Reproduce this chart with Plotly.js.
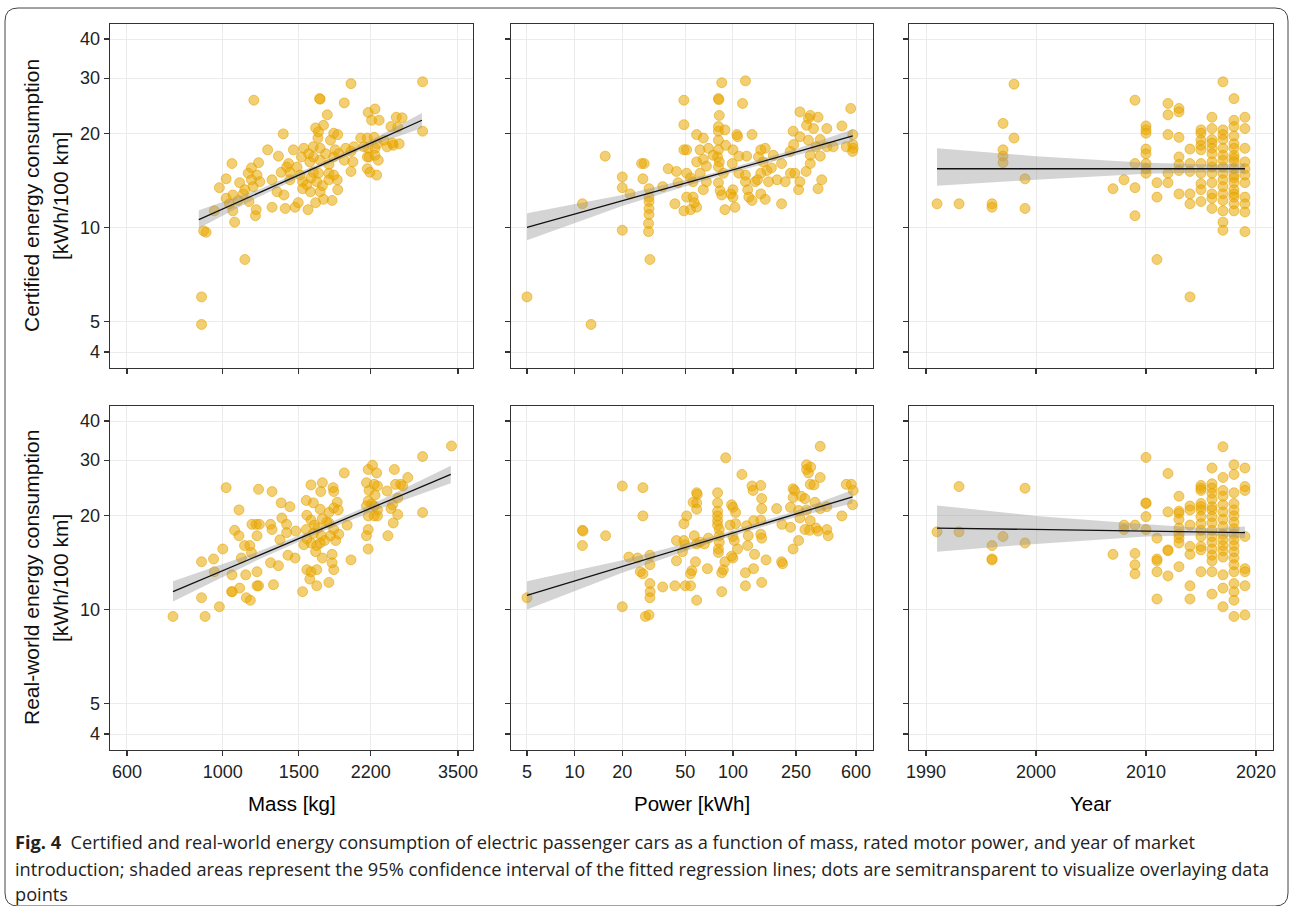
<!DOCTYPE html>
<html>
<head>
<meta charset="utf-8">
<script src="https://cdn.plot.ly/plotly-3.0.1.min.js"></script>
<style>
  html, body { margin: 0; padding: 0; background: #fff; }
  #chart { width: 1290px; height: 906px; }
</style>
</head>
<body>
<div id="chart"></div>
<script>
// ---------------- data ----------------
// Panel A: certified consumption vs mass
const massA = [893,893,903,915,1125,1180,1980,2900,2900,1675,1680,1910,1745,1710,1640,1380,2170,2250,2210,2300,2520,2600,2450,2085,2160,2240,2170,2250,2280,2180,2290,2160,2190,2270,2400,2480,2560,2540,1270,1345,1457,1050,1018,982,1094,1165,1210,1200,956,1055,1065,1190,1195,1055,1115,1150,1300,1365,1420,1430,1300,1395,1470,1575,1385,1335,1495,1640,1710,1790,1540,1620,1680,1806,1845,1820,1910,2000,1980,1530,1565,1600,1650,1700,1530,1595,1680,1760,1840,1845,1760,1680,1620,1590,1925,1775,1660,1665,1580,1520,1485,1430,1405,1218,1175,1125,1085,1018,1035,1145,1165,2160,2250,2120,2360,2470,2010,1730,1806,1760,1806,1620,1665,1510,1980,1855];
const certA = [4.9,6.0,9.75,9.65,7.9,25.5,28.8,29.2,20.3,25.8,25.7,25.0,22.9,21.2,20.8,19.9,23.3,23.9,22.0,22.0,22.5,22.4,21.0,19.3,19.3,19.4,17.9,17.9,18.5,16.8,16.4,15.4,15.0,14.7,18.1,18.3,18.5,20.9,17.7,16.9,17.7,16.0,14.3,13.4,13.9,15.5,16.1,14.7,11.3,11.3,10.4,10.9,11.4,12.7,12.8,12.1,14.2,15.0,16.0,15.0,11.6,11.5,11.6,11.4,12.7,13.0,12.0,12.0,12.3,12.2,17.9,18.1,17.9,20.0,19.8,17.7,16.4,16.2,15.1,14.0,13.7,14.4,14.0,13.6,13.3,13.0,13.0,14.2,14.2,13.2,15.9,16.4,16.8,16.2,17.9,19.0,19.3,20.2,17.2,16.8,15.6,14.2,15.6,14.0,13.5,13.2,12.2,12.4,11.9,14.9,14.2,16.8,17.0,18.1,19.0,18.6,18.1,17.2,16.8,14.9,14.7,15.0,14.9,14.7,17.5,17.2];
const fitMassA = [880, 1200, 1650, 2200, 2890];
const fitA = [10.6, 12.8, 15.6, 18.6, 22.0];
const loA  = [9.95, 12.45, 15.35, 18.2, 20.8];
const hiA  = [11.35, 13.15, 15.85, 19.0, 23.2];

// Panel B: certified consumption vs power
const powerB = [5,12.7,11.2,15.6,20,20,20,22.4,26.5,27.5,27,29.5,29.5,29.5,29.5,29.5,29.3,29.3,29.9,36,39,44,43,45,49,49,49,51,51,54,51,49,54,56,59,57,59,65,70,62,59,65,68,62,68,65,56,85,81,81.5,82,81,81,89,81,81,80,82,81,87,81,83,85,89,97,120,115,106,107,132,100,109,122,99,109,100,100,103,120,120,124,126,132,138,150,160,150,160,145,155,164,150,143,168,203,190,203,214,231,246,240,242,260,265,290,308,265,300,308,345,292,323,392,265,300,356,392,335,308,356,364,345,488,555,572,572,575,570,430,520,180,175,230,90,75];
const certB = [6.0,4.9,11.9,16.9,9.8,14.5,13.4,12.8,16.0,16.0,14.3,13.3,12.5,12.1,11.5,11.0,10.3,9.7,7.9,13.5,15.4,15.1,11.9,13.9,25.5,21.3,17.7,17.7,14.9,14.4,12.5,11.3,11.4,12.5,11.6,12.0,19.8,19.3,17.9,17.7,16.2,16.5,15.7,14.9,14.0,13.2,14.0,29.0,25.8,25.6,22.8,21.0,20.3,20.5,19.0,17.7,16.8,16.2,15.6,14.9,13.9,13.1,12.7,11.4,12.8,29.4,24.9,19.8,19.5,19.8,17.7,16.9,16.9,16.0,14.9,13.2,12.5,11.6,14.7,14.0,13.2,12.5,12.2,14.0,12.8,12.3,17.7,17.9,16.8,16.2,15.2,14.9,14.2,14.0,11.9,14.2,16.0,14.0,14.9,14.9,20.3,18.4,13.2,14.0,15.1,16.0,23.4,22.3,22.8,22.5,21.2,20.7,20.7,19.5,19.0,19.1,18.1,18.1,17.0,16.9,14.2,13.3,21.1,24.0,19.8,18.4,17.9,17.5,18.1,18.1,17.0,15.5,17.5,18.3,17.0];
const fitPowerB = [5, 20, 80, 250, 572];
const fitB = [10.0, 12.2, 14.8, 17.4, 19.6];
const loB  = [9.1, 11.7, 14.55, 17.0, 18.8];
const hiB  = [11.1, 12.7, 15.05, 17.8, 20.6];

// Panel C: certified consumption vs year of market introduction
const yearsC = [1991,1993,1996,1997,1998,1999,2007,2008,2009,2010,2011,2012,2013,2014,2015,2016,2017,2018,2019];
const certByYearC = [[11.9],[11.9],[11.9,11.6],[21.5,17.7,16.9,16.1],[28.7,19.3],[14.3,11.5],[13.3],[14.2],[25.5,16.0,13.4,10.9],[21.1,20.5,20.0,17.8,17.2,16.0,15.4,14.9],[13.9,12.5,7.9],[24.9,22.9,19.8,14.9,13.9],[24.0,23.4,19.4,16.8,15.9,15.2,12.8],[17.8,16.0,15.1,12.8,11.9,6.0],[20.5,20.0,19.0,18.3,17.7,16.0,14.9,13.8,13.2,12.1],[22.5,20.7,19.1,18.6,17.9,17.2,16.2,15.6,14.9,13.9,12.8,12.4,11.5],[29.2,20.5,19.8,19.1,17.9,17.0,16.4,15.6,14.9,14.2,13.5,12.8,12.2,11.3,10.4,9.8],[25.8,22.0,21.0,19.6,18.5,17.9,17.0,16.6,16.2,15.4,14.7,14.4,13.9,13.2,12.8,12.5,11.9,11.3],[22.5,20.7,17.9,16.2,15.4,14.7,13.9,12.5,11.9,11.2,9.7]];
const fitYearC = [1991, 2000, 2010, 2016, 2019];
const fitC = [15.4, 15.4, 15.4, 15.4, 15.4];
const loC  = [13.6, 14.2, 14.85, 15.0, 14.9];
const hiC  = [17.9, 16.9, 16.1, 15.9, 16.0];

// Panel D: real-world consumption vs mass
const massD = [767,910,893,893,952,956,1000,982,1050,1018,1090,1065,1090,1123,1104,1094,1048,1052,1130,1134,1158,1168,1195,1215,1200,1165,1200,1200,1210,1155,1210,1300,1290,1300,1290,1310,1345,1365,1430,1370,1405,1356,1405,1415,1470,1475,1530,1590,1650,1760,1565,1600,1650,1806,1790,1790,1700,1980,1600,1700,1685,1800,1806,1910,1620,1840,1806,1850,1760,1565,1600,1630,1660,1690,1720,1680,1650,1600,1565,1540,1640,1760,1806,1855,1825,1775,1940,2170,2220,2270,2150,2240,2280,2180,2250,2170,2210,2280,2170,2240,2170,2150,2170,2280,2150,2240,2400,2495,2510,2580,2680,2470,2450,2540,2480,2410,2540,2610,2900,2900,3383,1560,1700,1620,1740,1560,1680];
const realD = [9.5,9.5,10.9,14.2,14.5,13.2,15.6,10.2,12.9,24.5,20.8,17.9,17.2,16.0,14.6,11.7,11.4,11.4,12.9,10.9,10.7,18.7,18.7,18.7,17.2,15.2,13.2,11.9,11.9,16.0,24.2,23.8,18.7,18.0,14.1,12.0,13.8,21.9,21.3,19.6,18.7,16.7,17.6,14.9,14.6,17.8,11.4,12.5,11.9,12.2,13.4,13.2,13.4,13.4,14.1,15.0,14.6,14.4,25.0,25.4,23.8,24.5,23.8,27.3,21.9,22.0,21.1,20.8,20.4,20.0,19.3,18.6,18.2,17.2,16.6,16.3,16.0,16.3,16.8,16.1,15.3,18.9,18.0,17.4,16.6,17.2,18.6,28.0,28.9,27.3,25.4,25.1,24.8,24.0,23.2,22.2,21.7,20.8,19.9,19.9,18.0,17.2,15.6,19.9,21.4,21.4,23.9,28.0,25.1,25.1,26.4,21.6,21.0,20.1,18.9,17.2,22.7,24.8,30.8,20.4,33.3,18.0,19.5,17.5,19.0,22.3,20.9];
const fitMassD = [767, 1200, 1650, 2300, 3370];
const fitD = [11.4, 14.8, 17.8, 21.6, 27.0];
const loD  = [10.6, 14.35, 17.45, 20.95, 25.3];
const hiD  = [12.3, 15.25, 18.15, 22.25, 28.8];

// Panel E: real-world consumption vs power
const powerE = [5,11.2,11.3,11.2,15.7,20,20,27,27,22,25,26,27,28,29.5,29.9,29.9,29.9,30,29.9,36,43,50,54,44,44,48,50,49,51,49,56,59,59.5,59,59,57,59,62,66,70,58,55,54,59,69,80,80,80,80,80,80,82,82,82,81,81,85,85,87,89,90,98,100,104,96,104,100,102,100,98,107,114,132,134,150,152,152,122,125,124,120,120,137,135,152,162,150,152,150,135,189,204,203,206,231,240,260,240,245,240,231,260,265,292,292,300,310,308,325,356,356,285,292,308,285,305,335,345,392,400,356,392,488,520,560,575,570,330,270];
const realE = [10.9,17.9,17.8,16.0,17.2,24.8,10.2,24.5,19.9,14.7,14.6,13.2,13.0,9.5,9.6,14.9,13.9,12.1,11.4,10.9,11.8,11.9,11.9,11.9,16.6,14.3,15.3,16.1,16.6,19.9,18.8,22.0,23.6,23.3,21.9,20.9,17.2,16.2,16.4,16.2,16.9,14.2,13.3,13.0,10.7,13.5,23.6,21.9,20.6,19.9,19.2,18.6,18.0,17.2,16.4,15.6,15.2,13.1,11.4,13.4,14.2,30.5,21.6,21.2,20.4,18.6,18.8,17.1,16.6,14.6,14.8,15.6,27.0,24.8,24.0,24.9,22.6,21.0,18.5,17.2,16.0,13.1,11.9,15.0,13.5,12.2,14.4,17.4,16.9,19.3,19.2,21.0,18.7,14.2,14.0,18.3,15.6,16.6,24.3,24.0,22.8,21.2,20.7,19.6,29.0,28.0,27.3,28.5,25.1,25.0,26.4,33.2,22.6,20.8,19.2,18.0,17.9,18.2,17.8,18.0,17.2,21.0,21.3,19.9,25.1,25.1,24.0,21.6,22.0,23.0];
const fitPowerE = [5, 20, 80, 250, 570];
const fitE = [11.1, 13.7, 17.0, 20.2, 22.9];
const loE  = [10.0, 13.1, 16.65, 19.75, 21.8];
const hiE  = [12.3, 14.35, 17.3, 20.65, 24.1];

// Panel F: real-world consumption vs year of market introduction
const yearsF = [1991,1993,1996,1997,1999,2007,2008,2009,2010,2011,2012,2013,2014,2015,2016,2017,2018,2019];
const realByYearF = [[17.7],[24.7,17.7],[16.0,14.5,14.4],[17.1],[24.4,16.3],[15.0],[18.6,18.0],[18.6,15.1,13.9,13.0],[30.6,21.9,21.8,19.8,18.0],[16.9,14.5,14.3,13.2,10.8],[27.2,20.5,15.5,15.4,12.8],[23.0,20.6,20.3,19.4,18.2,17.4,16.9,16.3,13.7],[21.4,20.8,18.6,15.9,15.0,11.9,10.8],[24.9,24.4,24.0,21.8,21.3,20.8,19.8,18.8,17.9,17.1,15.9,15.5,13.2],[28.3,25.2,24.4,23.5,22.5,21.3,20.8,19.8,18.9,17.9,17.1,16.4,15.6,14.9,14.3,13.2,11.2],[33.1,26.4,24.0,23.0,21.6,20.5,19.4,18.4,17.4,16.7,16.0,15.4,14.7,12.9,11.7,10.2],[29.0,27.0,23.6,21.8,20.8,19.9,19.0,18.1,17.4,16.7,16.0,15.3,14.6,13.9,13.2,12.1,11.4,10.7,9.5],[28.3,24.7,24.0,17.1,13.5,13.2,11.9,9.6]];
const fitYearF = [1991, 2000, 2010, 2016, 2019];
const fitF = [18.2, 18.0, 17.8, 17.7, 17.6];
const loF  = [15.3, 16.2, 17.1, 17.25, 16.9];
const hiF  = [21.5, 19.9, 18.7, 18.15, 18.4];

// ticks and labels
const massTicks = [600, 1000, 1500, 2200, 3500];
const powerTicks = [5, 10, 20, 50, 100, 250, 600];
const yearTicks = [1990, 2000, 2010, 2020];
const consTicks = [4, 5, 10, 20, 30, 40];
const rowTitles = [["Certified energy consumption", "[kWh/100 km]"], ["Real-world energy consumption", "[kWh/100 km]"]];
const colTitles = ["Mass [kg]", "Power [kWh]", "Year"];
const captionLines = [
  "<b>Fig. 4</b>\u00a0\u00a0Certified and real-world energy consumption of electric passenger cars as a function of mass, rated motor power, and year of market",
  "introduction; shaded areas represent the 95% confidence interval of the fitted regression lines; dots are semitransparent to visualize overlaying data",
  "points"
];

// ---------------- build ----------------
function flatten(years, groups) {
  const xs = [], ys = [];
  groups.forEach((g, i) => g.forEach(v => { xs.push(years[i]); ys.push(v); }));
  return [xs, ys];
}
const [yearC, certC] = flatten(yearsC, certByYearC);
const [yearF, realF] = flatten(yearsF, realByYearF);

const W = 1290, H = 906;
const colPx = [[110, 473], [511, 873], [909, 1273]];
const rowPx = [[24, 368], [406, 750]];
const px = x => x / W;
const py = y => 1 - y / H;

const panels = [
  {x: massA, y: certA, fx: fitMassA, fy: fitA, lo: loA, hi: hiA, row: 0, col: 0},
  {x: powerB, y: certB, fx: fitPowerB, fy: fitB, lo: loB, hi: hiB, row: 0, col: 1},
  {x: yearC, y: certC, fx: fitYearC, fy: fitC, lo: loC, hi: hiC, row: 0, col: 2},
  {x: massD, y: realD, fx: fitMassD, fy: fitD, lo: loD, hi: hiD, row: 1, col: 0},
  {x: powerE, y: realE, fx: fitPowerE, fy: fitE, lo: loE, hi: hiE, row: 1, col: 1},
  {x: yearF, y: realF, fx: fitYearF, fy: fitF, lo: loF, hi: hiF, row: 1, col: 2}
];

const xCfg = [
  {type: 'log', range: [2.739, 3.579], tickvals: massTicks},
  {type: 'log', range: [0.598, 2.885], tickvals: powerTicks},
  {type: 'linear', range: [1988.45, 2021.55], tickvals: yearTicks}
];

const tickFont = {family: 'Liberation Sans, Arial, sans-serif', size: 18, color: '#222'};
function baseAxis() {
  return {
    showline: true, mirror: true, linecolor: '#333', linewidth: 1.4,
    ticks: 'outside', ticklen: 5, tickwidth: 1.2, tickcolor: '#333',
    showgrid: true, gridcolor: '#ebebeb', gridwidth: 1, zeroline: false,
    tickfont: tickFont, fixedrange: true, tickmode: 'array'
  };
}

const traces = [];
const layout = {
  width: W, height: H,
  margin: {l: 0, r: 0, t: 0, b: 0},
  paper_bgcolor: '#fff', plot_bgcolor: '#fff',
  showlegend: false,
  annotations: [], shapes: []
};

panels.forEach((p, i) => {
  const n = i === 0 ? '' : String(i + 1);
  const xa = 'x' + n, ya = 'y' + n;
  const xc = xCfg[p.col];
  const xAxis = Object.assign(baseAxis(), {
    type: xc.type, range: xc.range, tickvals: xc.tickvals,
    ticktext: xc.tickvals.map(String),
    showticklabels: p.row === 1,
    domain: [px(colPx[p.col][0]), px(colPx[p.col][1])],
    anchor: ya
  });
  const yAxis = Object.assign(baseAxis(), {
    type: 'log', range: [0.551, 1.650], tickvals: consTicks,
    ticktext: consTicks.map(String),
    showticklabels: p.col === 0,
    domain: [py(rowPx[p.row][1]), py(rowPx[p.row][0])],
    anchor: xa
  });
  layout['xaxis' + n] = xAxis;
  layout['yaxis' + n] = yAxis;

  traces.push({
    type: 'scatter', mode: 'markers', x: p.x, y: p.y, xaxis: xa, yaxis: ya,
    marker: {size: 10, color: 'rgba(233,168,0,0.55)', line: {width: 1, color: 'rgba(226,160,0,0.55)'}},
    hoverinfo: 'skip'
  });
  traces.push({
    type: 'scatter', mode: 'lines', xaxis: xa, yaxis: ya,
    x: p.fx.concat(p.fx.slice().reverse()),
    y: p.hi.concat(p.lo.slice().reverse()),
    fill: 'toself', fillcolor: 'rgba(153,153,153,0.42)', line: {width: 0},
    hoverinfo: 'skip'
  });
  traces.push({
    type: 'scatter', mode: 'lines', x: p.fx, y: p.fy, xaxis: xa, yaxis: ya,
    line: {color: '#111', width: 1.3}, hoverinfo: 'skip'
  });
});

// row (y) titles
rowTitles.forEach((lines, r) => {
  const yc = py((rowPx[r][0] + rowPx[r][1]) / 2);
  [31, 60].forEach((xpix, k) => {
    layout.annotations.push({
      xref: 'paper', yref: 'paper', x: px(xpix), y: yc, xanchor: 'center', yanchor: 'middle',
      text: lines[k], textangle: -90, showarrow: false,
      font: {family: 'Liberation Sans, Arial, sans-serif', size: 21, color: '#111'}
    });
  });
});

// column (x) titles
colTitles.forEach((t, c) => {
  layout.annotations.push({
    xref: 'paper', yref: 'paper', x: px((colPx[c][0] + colPx[c][1]) / 2), y: py(803),
    xanchor: 'center', yanchor: 'middle', text: t, showarrow: false,
    font: {family: 'Liberation Sans, Arial, sans-serif', size: 20.5, color: '#000'}
  });
});

// caption
[842, 869, 894].forEach((ypix, k) => {
  layout.annotations.push({
    xref: 'paper', yref: 'paper', x: px(13), y: py(ypix), xanchor: 'left', yanchor: 'middle',
    text: captionLines[k], showarrow: false, align: 'left',
    font: {family: 'Open Sans, Noto Sans, sans-serif', size: 18.2, color: '#222'}
  });
});

// outer rounded frame
const L = 5, T = 8, R = 1288, B = 906, rad = 13;
const pathStr = [
  'M', px(L + rad), py(T),
  'L', px(R - rad), py(T),
  'Q', px(R), py(T), px(R), py(T + rad),
  'L', px(R), py(B - rad),
  'Q', px(R), py(B), px(R - rad), py(B),
  'L', px(L + rad), py(B),
  'Q', px(L), py(B), px(L), py(B - rad),
  'L', px(L), py(T + rad),
  'Q', px(L), py(T), px(L + rad), py(T), 'Z'
].join(' ');
layout.shapes.push({type: 'path', xref: 'paper', yref: 'paper', path: pathStr,
  line: {color: '#444', width: 1}, fillcolor: 'rgba(0,0,0,0)', layer: 'below'});

Plotly.newPlot('chart', traces, layout, {staticPlot: true, displayModeBar: false});
</script>
</body>
</html>
